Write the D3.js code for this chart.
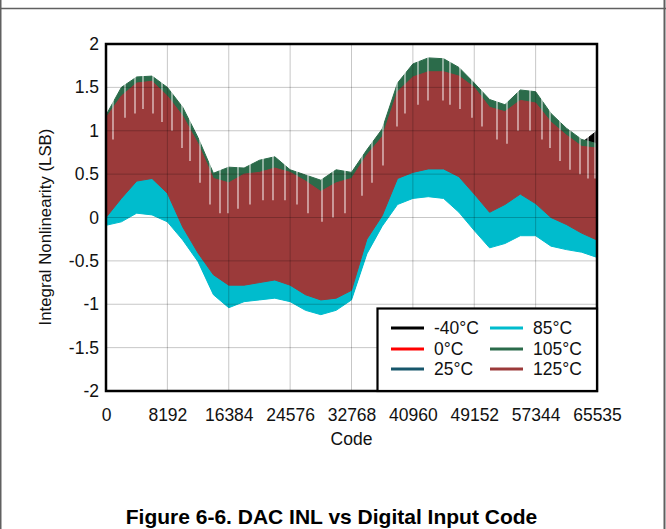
<!DOCTYPE html>
<html>
<head>
<meta charset="utf-8">
<script src="https://cdn.jsdelivr.net/npm/d3@7"></script>
<style>
  html, body { margin: 0; padding: 0; background: #fff; }
  svg { display: block; font-family: "Liberation Sans", Arial, sans-serif; }
</style>
</head>
<body>
<script>
// ---------------- data ----------------
const seriesNames = ["-40°C", "0°C", "25°C", "85°C", "105°C", "125°C"];
const seriesColors = ["#000000", "#ff0000", "#17566b", "#00bccd", "#2b6b4a", "#9b3a3a"];
const xTickValues = [0, 8192, 16384, 24576, 32768, 40960, 49152, 57344, 65535];
const xTickLabels = ["0", "8192", "16384", "24576", "32768", "40960", "49152", "57344", "65535"];
const yTickValues = [-2, -1.5, -1, -0.5, 0, 0.5, 1, 1.5, 2];
const yTickLabels = ["-2", "-1.5", "-1", "-0.5", "0", "0.5", "1", "1.5", "2"];
// sample codes (every 2048 codes)
const codes = [0, 2048, 4096, 6144, 8192, 10240, 12288, 14336, 16384, 18432, 20480, 22528, 24576, 26624, 28672, 30720,
  32768, 34816, 36864, 38912, 40960, 43008, 45056, 47104, 49152, 51200, 53248, 55296, 57344, 59392, 61440, 63488, 65535];
// upper / lower envelope of INL (LSB) for each temperature
const inlM40Hi = [1.12, 1.38, 1.52, 1.55, 1.38, 1.15, 0.83, 0.43, 0.40, 0.48, 0.50, 0.55, 0.50, 0.40, 0.30, 0.38, 0.45, 0.70, 0.92, 1.42, 1.60, 1.65, 1.65, 1.60, 1.47, 1.25, 1.20, 1.33, 1.30, 1.08, 0.94, 0.86, 1.00];
const inlM40Lo = [0.02, 0.24, 0.44, 0.47, 0.30, -0.09, -0.39, -0.64, -0.76, -0.76, -0.73, -0.70, -0.76, -0.87, -0.93, -0.91, -0.82, -0.23, 0.04, 0.47, 0.54, 0.58, 0.58, 0.49, 0.29, 0.08, 0.17, 0.29, 0.18, 0.02, -0.06, -0.16, -0.24];
const inl0Hi = [1.10, 1.36, 1.50, 1.53, 1.36, 1.13, 0.81, 0.41, 0.38, 0.46, 0.48, 0.53, 0.48, 0.38, 0.28, 0.36, 0.43, 0.68, 0.90, 1.40, 1.58, 1.63, 1.63, 1.58, 1.45, 1.23, 1.18, 1.31, 1.28, 1.06, 0.92, 0.80, 0.78];
const inl0Lo = [0.01, 0.23, 0.43, 0.46, 0.29, -0.10, -0.40, -0.65, -0.77, -0.77, -0.74, -0.71, -0.77, -0.88, -0.98, -0.92, -0.83, -0.24, 0.03, 0.46, 0.53, 0.57, 0.57, 0.48, 0.28, 0.07, 0.16, 0.28, 0.17, 0.01, -0.07, -0.17, -0.25];
const inl25Hi = [1.05, 1.30, 1.45, 1.47, 1.30, 1.07, 0.75, 0.35, 0.30, 0.40, 0.42, 0.47, 0.42, 0.32, 0.20, 0.30, 0.35, 0.62, 0.83, 1.35, 1.52, 1.58, 1.58, 1.53, 1.40, 1.17, 1.12, 1.25, 1.22, 1.00, 0.85, 0.72, 0.70];
const inl25Lo = [-0.07, -0.03, 0.07, 0.05, -0.03, -0.24, -0.49, -0.87, -1.02, -0.95, -0.93, -0.91, -0.95, -1.05, -1.10, -1.05, -0.93, -0.40, -0.08, 0.17, 0.24, 0.26, 0.24, 0.08, -0.13, -0.33, -0.28, -0.19, -0.19, -0.31, -0.35, -0.38, -0.44];
const inl85Hi = [0.95, 1.15, 1.30, 1.32, 1.15, 0.92, 0.60, 0.20, 0.15, 0.25, 0.27, 0.32, 0.27, 0.17, 0.05, 0.15, 0.20, 0.47, 0.68, 1.20, 1.37, 1.43, 1.43, 1.38, 1.25, 1.02, 0.97, 1.10, 1.07, 0.85, 0.70, 0.57, 0.55];
const inl85Lo = [-0.09, -0.05, 0.05, 0.03, -0.05, -0.26, -0.51, -0.89, -1.04, -0.97, -0.95, -0.93, -0.97, -1.07, -1.12, -1.07, -0.95, -0.42, -0.10, 0.15, 0.22, 0.24, 0.22, 0.06, -0.15, -0.35, -0.30, -0.21, -0.21, -0.33, -0.37, -0.40, -0.46];
const inl105Hi = [1.18, 1.50, 1.62, 1.63, 1.50, 1.27, 0.92, 0.51, 0.58, 0.57, 0.66, 0.70, 0.55, 0.49, 0.43, 0.55, 0.52, 0.78, 1.02, 1.55, 1.77, 1.84, 1.83, 1.73, 1.55, 1.36, 1.30, 1.47, 1.45, 1.20, 1.03, 0.90, 0.85];
const inl105Lo = [0.05, 0.27, 0.47, 0.50, 0.33, -0.06, -0.36, -0.61, -0.73, -0.73, -0.70, -0.67, -0.73, -0.84, -0.90, -0.88, -0.79, -0.20, 0.07, 0.50, 0.57, 0.61, 0.61, 0.52, 0.32, 0.11, 0.20, 0.32, 0.21, 0.05, -0.03, -0.13, -0.21];
const inl125Hi = [1.15, 1.40, 1.55, 1.57, 1.40, 1.17, 0.85, 0.45, 0.40, 0.50, 0.52, 0.57, 0.52, 0.42, 0.30, 0.40, 0.45, 0.72, 0.93, 1.45, 1.62, 1.68, 1.68, 1.63, 1.50, 1.27, 1.22, 1.35, 1.32, 1.10, 0.95, 0.82, 0.80];
const inl125Lo = [0.00, 0.22, 0.42, 0.45, 0.28, -0.11, -0.41, -0.66, -0.78, -0.78, -0.75, -0.72, -0.78, -0.89, -0.95, -0.93, -0.84, -0.25, 0.02, 0.45, 0.52, 0.56, 0.56, 0.47, 0.27, 0.06, 0.15, 0.27, 0.16, 0.00, -0.08, -0.18, -0.26];
// codes where the curves drop sharply (white notches seen in the band) and the INL they drop to
const notchCodes = [934, 2536, 3871, 4938, 6273, 7474, 8809, 10144, 11211, 12546, 13881, 15216, 16283, 17618, 19220, 20955,
  22289, 23891, 25493, 26961, 28830, 30298, 31899, 34168, 35503, 36971, 38840, 39907, 41642, 42977, 44979, 45913,
  47248, 48850, 50185, 52187, 53522, 54990, 56592, 58193, 59261, 60596, 61930, 63265, 64333, 65268];
const notchLo = [0.90, 1.15, 1.20, 1.25, 1.20, 1.10, 1.00, 0.80, 0.65, 0.40, 0.15, 0.05, 0.05, 0.10, 0.15, 0.20,
  0.20, 0.20, 0.15, 0.05, -0.05, 0.00, 0.05, 0.25, 0.40, 0.60, 1.05, 1.20, 1.30, 1.35, 1.35, 1.30,
  1.25, 1.15, 1.05, 0.90, 0.85, 1.00, 1.00, 0.90, 0.80, 0.65, 0.55, 0.50, 0.45, 0.45];

const hiSeries = [inlM40Hi, inl0Hi, inl25Hi, inl85Hi, inl105Hi, inl125Hi];
const loSeries = [inlM40Lo, inl0Lo, inl25Lo, inl85Lo, inl105Lo, inl125Lo];

// ---------------- layout ----------------
const W = 666, H = 529;
const plot = { left: 106, top: 44, right: 597, bottom: 391 };
const FONT = 17.5;

const svg = d3.select("body").append("svg").attr("width", W).attr("height", H);

// outer frame
svg.append("line").attr("x1", 0).attr("x2", W).attr("y1", 8.5).attr("y2", 8.5).attr("stroke", "#606060").attr("stroke-width", 1.5);
svg.append("line").attr("x1", 0.75).attr("x2", 0.75).attr("y1", 0).attr("y2", H).attr("stroke", "#606060").attr("stroke-width", 1.5);
svg.append("line").attr("x1", 664.5).attr("x2", 664.5).attr("y1", 0).attr("y2", H).attr("stroke", "#606060").attr("stroke-width", 2);

const x = d3.scaleLinear().domain([0, 65535]).range([plot.left, plot.right]);
const y = d3.scaleLinear().domain([-2, 2]).range([plot.bottom, plot.top]);

svg.append("clipPath").attr("id", "pclip").append("rect")
  .attr("x", plot.left).attr("y", plot.top).attr("width", plot.right - plot.left).attr("height", plot.bottom - plot.top);

const dataG = svg.append("g").attr("clip-path", "url(#pclip)");
const area = d3.area()
  .x(d => x(d.c))
  .y0(d => y(d.lo))
  .y1(d => y(d.hi))
  .curve(d3.curveLinear);

seriesNames.forEach((name, s) => {
  const pts = codes.map((c, i) => ({ c, hi: hiSeries[s][i], lo: loSeries[s][i] }));
  dataG.append("path").datum(pts).attr("d", area)
    .attr("fill", seriesColors[s]).attr("stroke", seriesColors[s]).attr("stroke-width", 1);
});

// sharp drops of the curves (white notches)
dataG.selectAll("line.notch").data(notchCodes).join("line")
  .attr("class", "notch")
  .attr("x1", d => x(d)).attr("x2", d => x(d))
  .attr("y1", (d, i) => y(notchLo[i])).attr("y2", plot.top)
  .attr("stroke", "#ffffff").attr("stroke-opacity", 0.8).attr("stroke-width", 1.2);

// grid (drawn over data, semi-transparent)
const gridG = svg.append("g");
gridG.selectAll("line.v").data(xTickValues.slice(1, -1)).join("line")
  .attr("x1", d => x(d)).attr("x2", d => x(d)).attr("y1", plot.top).attr("y2", plot.bottom)
  .attr("stroke", "rgba(0,0,0,0.22)").attr("stroke-width", 1);
gridG.selectAll("line.h").data(yTickValues.slice(1, -1)).join("line")
  .attr("x1", plot.left).attr("x2", plot.right).attr("y1", d => y(d)).attr("y2", d => y(d))
  .attr("stroke", "rgba(0,0,0,0.22)").attr("stroke-width", 1);

// axes
const yAxis = d3.axisLeft(y).tickValues(yTickValues).tickSize(0).tickPadding(7)
  .tickFormat((d, i) => yTickLabels[i]);
const yg = svg.append("g").attr("transform", `translate(${plot.left},0)`).call(yAxis);
yg.select(".domain").remove();
yg.selectAll("text").attr("font-size", FONT).attr("fill", "#111").attr("font-weight", "normal")
  .attr("font-family", "Liberation Sans, Arial, sans-serif");

const xAxis = d3.axisBottom(x).tickValues(xTickValues).tickSize(0).tickPadding(17.5)
  .tickFormat((d, i) => xTickLabels[i]);
const xg = svg.append("g").attr("transform", `translate(0,${plot.bottom})`).call(xAxis);
xg.select(".domain").remove();
xg.selectAll("text").attr("font-size", FONT).attr("fill", "#111").attr("font-weight", "normal")
  .attr("font-family", "Liberation Sans, Arial, sans-serif");

// axis titles
svg.append("text").attr("x", (plot.left + plot.right) / 2).attr("y", 445)
  .attr("text-anchor", "middle").attr("font-size", FONT).attr("fill", "#111").text("Code");
svg.append("text").attr("transform", "translate(51,227) rotate(-90)")
  .attr("text-anchor", "middle").attr("font-size", 16.8).attr("fill", "#111").text("Integral Nonlinearity (LSB)");

// plot border
svg.append("rect").attr("x", plot.left).attr("y", plot.top)
  .attr("width", plot.right - plot.left).attr("height", plot.bottom - plot.top)
  .attr("fill", "none").attr("stroke", "#000").attr("stroke-width", 2.5);

// legend
const lg = svg.append("g");
lg.append("rect").attr("x", 377.5).attr("y", 308.5).attr("width", plot.right - 377.5).attr("height", plot.bottom - 308.5)
  .attr("fill", "#fff").attr("stroke", "#000").attr("stroke-width", 2.2);
const legCols = [391, 490];
const legRows = [328, 349, 369];
seriesNames.forEach((name, s) => {
  const col = Math.floor(s / 3), row = s % 3;
  const lx = legCols[col], ly = legRows[row];
  lg.append("line").attr("x1", lx).attr("x2", lx + 33).attr("y1", ly).attr("y2", ly)
    .attr("stroke", seriesColors[s]).attr("stroke-width", 3);
  lg.append("text").attr("x", lx + 43).attr("y", ly).attr("dy", "0.35em")
    .attr("font-size", FONT).attr("fill", "#111").text(name);
});

// caption
svg.append("text").attr("x", 331.5).attr("y", 524).attr("text-anchor", "middle")
  .attr("font-size", 21).attr("font-weight", "bold").text("Figure 6-6. DAC INL vs Digital Input Code");
</script>
</body>
</html>
